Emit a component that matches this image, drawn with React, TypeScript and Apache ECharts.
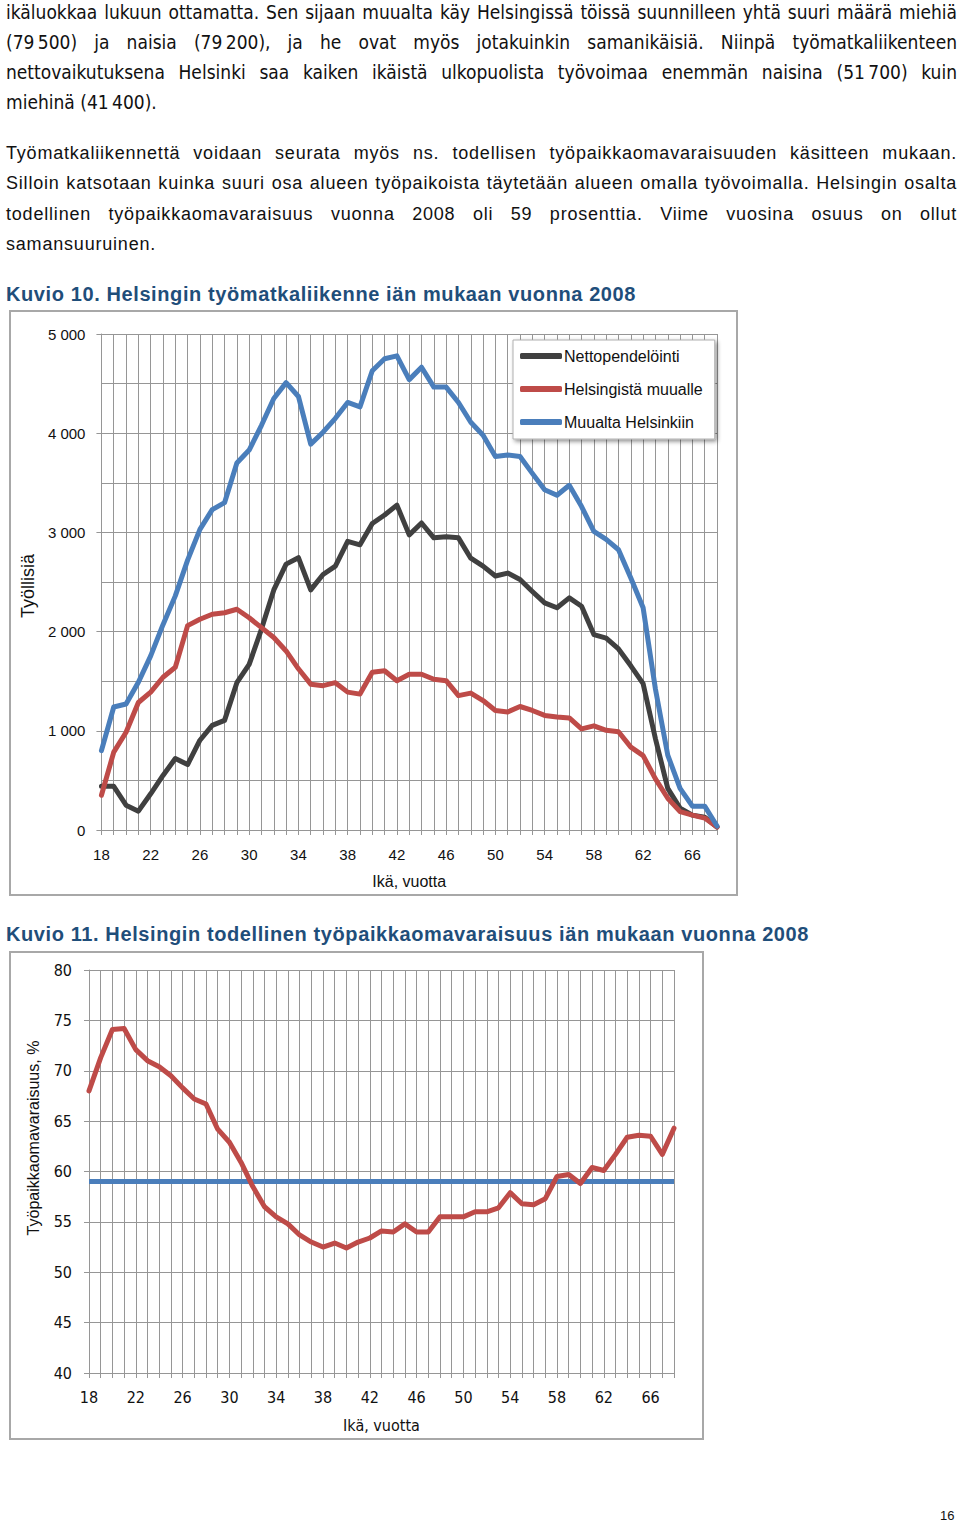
import React, { useEffect, useRef } from "react";
import * as echarts from "echarts";

// ---------- DATA ----------
const AGES = [
  "18", "19", "20", "21", "22", "23", "24", "25", "26", "27", "28", "29", "30",
  "31", "32", "33", "34", "35", "36", "37", "38", "39", "40", "41", "42", "43",
  "44", "45", "46", "47", "48", "49", "50", "51", "52", "53", "54", "55", "56",
  "57", "58", "59", "60", "61", "62", "63", "64", "65", "66", "67", "68",
];

// Kuvio 10
const NETTOPENDELOINTI = [
  440, 440, 250, 190, 365, 550, 720, 660, 905, 1055, 1105, 1485, 1670,
  2025, 2420, 2680, 2745, 2420, 2575, 2660, 2910, 2875, 3090, 3175, 3275, 2975,
  3095, 2945, 2955, 2945, 2740, 2660, 2560, 2590, 2525, 2405, 2290, 2240, 2340,
  2255, 1970, 1935, 1825, 1655, 1475, 920, 420, 220, 150, 130, 30,
];
const HELSINGISTA_MUUALLE = [
  350, 785, 985, 1285, 1390, 1540, 1640, 2060, 2125, 2175, 2190, 2225, 2140,
  2040, 1940, 1805, 1625, 1470, 1455, 1485, 1390, 1370, 1590, 1605, 1505, 1570,
  1570, 1520, 1505, 1355, 1380, 1305, 1205, 1190, 1245, 1205, 1155, 1140, 1130,
  1020, 1050, 1005, 990, 835, 750, 515, 320, 185, 150, 120, 30,
];
const MUUALTA_HELSINKIIN = [
  800, 1240, 1270, 1490, 1755, 2070, 2360, 2720, 3030, 3230, 3300, 3700, 3830,
  4080, 4350, 4510, 4370, 3890, 4010, 4150, 4310, 4265, 4630, 4750, 4780, 4540,
  4665, 4465, 4465, 4310, 4110, 3980, 3765, 3780, 3765, 3595, 3430, 3375, 3475,
  3260, 3010, 2930, 2825, 2540, 2240, 1420, 755, 420, 240, 240, 40,
];

// Kuvio 11
const OMAVARAISUUS = [
  68.0, 71.3, 74.1, 74.2, 72.1, 71.0, 70.4, 69.5, 68.3, 67.2, 66.7, 64.2, 62.9,
  60.9, 58.5, 56.5, 55.5, 54.8, 53.7, 53.0, 52.5, 52.9, 52.4, 53.0, 53.4, 54.1,
  54.0, 54.8, 54.0, 54.0, 55.5, 55.5, 55.5, 56.0, 56.0, 56.4, 57.9, 56.8, 56.7,
  57.3, 59.5, 59.7, 58.8, 60.4, 60.1, 61.7, 63.4, 63.6, 63.5, 61.7, 64.3,
];
const OMAVARAISUUS_KAIKKI = [["18", 59], ["68", 59]];

const Y1_TICKS = [0, 1000, 2000, 3000, 4000, 5000];

const PARA1 = [
  "ikäluokkaa lukuun ottamatta. Sen sijaan muualta käy Helsingissä töissä suunnilleen yhtä suuri määrä miehiä",
  "(79\u202F500) ja naisia (79\u202F200), ja he ovat myös jotakuinkin samanikäisiä. Niinpä työmatkaliikenteen",
  "nettovaikutuksena Helsinki saa kaiken ikäistä ulkopuolista työvoimaa enemmän naisina (51\u202F700) kuin",
  "miehinä (41\u202F400).",
];
const PARA2 = [
  "Työmatkaliikennettä voidaan seurata myös ns. todellisen työpaikkaomavaraisuuden käsitteen mukaan.",
  "Silloin katsotaan kuinka suuri osa alueen työpaikoista täytetään alueen omalla työvoimalla. Helsingin osalta",
  "todellinen työpaikkaomavaraisuus vuonna 2008 oli 59 prosenttia. Viime vuosina osuus on ollut",
  "samansuuruinen.",
];
const TITLE1 = "Kuvio 10. Helsingin työmatkaliikenne iän mukaan vuonna 2008";
const TITLE2 = "Kuvio 11. Helsingin todellinen työpaikkaomavaraisuus iän mukaan vuonna 2008";

// ---------- STYLE ----------
const SANS = "'Liberation Sans', Arial, sans-serif";
const NARROW = "'Liberation Sans Narrow', 'DejaVu Sans Condensed', 'Arial Narrow', sans-serif";
const GRID = "#969696";
const BLACK = "#404040";
const RED = "#be4b48";
const BLUE = "#4a7ebb";
const TITLE_BLUE = "#1f4e7a";

function fmtThousands(v: number) {
  return String(v).replace(/\B(?=(\d{3})+(?!\d))/g, " ");
}

function EChart({ option, width, height }: { option: any; width: number; height: number }) {
  const ref = useRef<HTMLDivElement>(null);
  useEffect(() => {
    const chart = echarts.init(ref.current!, undefined, { renderer: "svg" });
    chart.setOption(option);
    return () => chart.dispose();
  }, []);
  return <div ref={ref} style={{ width, height }} />;
}

const lineStyle = (color: string) => ({ width: 5, color, join: "round", cap: "round" });

const option1 = {
  animation: false,
  textStyle: { fontFamily: SANS },
  grid: { left: 87, top: 22, right: 19, bottom: 63 },
  legend: {
    left: 502,
    top: 28,
    orient: "vertical",
    data: ["Nettopendelöinti", "Helsingistä muualle", "Muualta Helsinkiin"],
    icon: "roundRect",
    itemWidth: 42,
    itemHeight: 6,
    itemGap: 15,
    padding: [7, 12, 8, 7],
    backgroundColor: "#ffffff",
    borderColor: "#b0b0b0",
    borderWidth: 1,
    shadowBlur: 4,
    shadowColor: "rgba(0,0,0,0.45)",
    shadowOffsetX: 2,
    shadowOffsetY: 2,
    textStyle: { fontSize: 16, color: "#111", lineHeight: 18, fontFamily: SANS, padding: [0, 0, 0, -3] },
  },
  xAxis: {
    type: "category",
    data: AGES,
    boundaryGap: false,
    name: "Ikä, vuotta",
    nameLocation: "middle",
    nameGap: 43,
    nameTextStyle: { fontSize: 16, color: "#111", fontFamily: SANS },
    axisLine: { lineStyle: { color: GRID, width: 1 } },
    axisTick: { show: true, interval: 0, length: 5, lineStyle: { color: GRID } },
    axisLabel: { interval: 3, margin: 17, fontSize: 15, color: "#111", fontFamily: SANS },
    splitLine: { show: true, interval: 0, lineStyle: { color: GRID, width: 1 } },
  },
  yAxis: {
    type: "value",
    min: Y1_TICKS[0],
    max: Y1_TICKS[Y1_TICKS.length - 1],
    interval: 1000,
    name: "Työllisiä",
    nameLocation: "middle",
    nameGap: 59,
    nameTextStyle: { fontSize: 18, color: "#111", fontFamily: SANS, padding: [0, 8, 0, 0] },
    axisLine: { show: true, lineStyle: { color: GRID, width: 1 } },
    axisTick: { show: true, length: 5, lineStyle: { color: GRID } },
    axisLabel: { formatter: (v: number) => fmtThousands(v), margin: 16, fontSize: 15, color: "#111", fontFamily: SANS },
    splitLine: { show: true, lineStyle: { color: GRID, width: 1 } },
    minorTick: { show: false, splitNumber: 2 },
    minorSplitLine: { show: true, lineStyle: { color: GRID, width: 1 } },
  },
  series: [
    { name: "Nettopendelöinti", type: "line", data: NETTOPENDELOINTI, symbol: "none", lineStyle: lineStyle(BLACK), itemStyle: { color: BLACK } },
    { name: "Helsingistä muualle", type: "line", data: HELSINGISTA_MUUALLE, symbol: "none", lineStyle: lineStyle(RED), itemStyle: { color: RED } },
    { name: "Muualta Helsinkiin", type: "line", data: MUUALTA_HELSINKIIN, symbol: "none", lineStyle: lineStyle(BLUE), itemStyle: { color: BLUE } },
  ],
};

const option2 = {
  animation: false,
  textStyle: { fontFamily: NARROW },
  grid: { left: 78, top: 17, right: 28, bottom: 62 },
  xAxis: {
    type: "category",
    data: AGES,
    boundaryGap: false,
    name: "Ikä, vuotta",
    nameLocation: "middle",
    nameGap: 44,
    nameTextStyle: { fontSize: 16, color: "#111", fontFamily: NARROW },
    axisLine: { lineStyle: { color: GRID, width: 1 } },
    axisTick: { show: true, interval: 0, length: 5, lineStyle: { color: GRID } },
    axisLabel: { interval: 3, margin: 16, fontSize: 16, color: "#111", fontFamily: NARROW },
    splitLine: { show: true, interval: 0, lineStyle: { color: GRID, width: 1 } },
  },
  yAxis: {
    type: "value",
    min: 40,
    max: 80,
    interval: 5,
    axisLine: { show: true, lineStyle: { color: GRID, width: 1 } },
    axisTick: { show: true, length: 5, lineStyle: { color: GRID } },
    axisLabel: { margin: 17, fontSize: 16, color: "#111", fontFamily: NARROW },
    splitLine: { show: true, lineStyle: { color: GRID, width: 1 } },
  },
  graphic: [
    {
      type: "text",
      x: 22,
      y: 185,
      rotation: Math.PI / 2,
      style: {
        text: "Työpaikkaomavaraisuus, %",
        fontSize: 16,
        fontFamily: SANS,
        fill: "#111",
        align: "center",
        verticalAlign: "middle",
      },
    },
  ],
  series: [
    { name: "Helsinki keskimäärin", type: "line", data: OMAVARAISUUS_KAIKKI, symbol: "none", lineStyle: { width: 5, color: BLUE, cap: "butt" }, itemStyle: { color: BLUE } },
    { name: "Työpaikkaomavaraisuus", type: "line", data: OMAVARAISUUS, symbol: "none", lineStyle: lineStyle(RED), itemStyle: { color: RED } },
  ],
};

function TextLine({ text, top, last, font, size, spacing }: { text: string; top: number; last: boolean; font: string; size: number; spacing?: number }) {
  return (
    <div
      style={{
        position: "absolute",
        left: 6,
        top,
        width: 951,
        height: 30,
        lineHeight: "30px",
        fontFamily: font,
        fontSize: size,
        letterSpacing: spacing ?? 0,
        color: "#111",
        textAlign: last ? "left" : "justify",
        textAlignLast: last ? "left" : "justify",
        whiteSpace: "nowrap",
      } as any}
    >
      {text}
    </div>
  );
}

const titleStyle: any = {
  position: "absolute",
  left: 6,
  fontFamily: SANS,
  fontWeight: "bold",
  fontSize: 20,
  letterSpacing: 0.6,
  color: TITLE_BLUE,
  whiteSpace: "nowrap",
  lineHeight: "26px",
};

export default function App() {
  return (
    <div style={{ position: "absolute", left: 0, top: 0, width: 960, height: 1525, background: "#fff", overflow: "hidden" }}>
      {PARA1.map((t, i) => (
        <TextLine key={"p1" + i} text={t} top={-3 + i * 30} last={i === PARA1.length - 1} font={NARROW} size={19} />
      ))}
      {PARA2.map((t, i) => (
        <TextLine key={"p2" + i} text={t} top={138 + i * 30.4} last={i === PARA2.length - 1} font={SANS} size={18} spacing={0.8} />
      ))}
      <div style={{ ...titleStyle, top: 281 }}>{TITLE1}</div>
      <div style={{ position: "absolute", left: 9, top: 310, width: 725, height: 582, border: "2px solid #a8a8a8" }}>
        <EChart option={option1} width={725} height={582} />
      </div>
      <div style={{ ...titleStyle, top: 921 }}>{TITLE2}</div>
      <div style={{ position: "absolute", left: 9, top: 951, width: 691, height: 485, border: "2px solid #a8a8a8" }}>
        <EChart option={option2} width={691} height={485} />
      </div>
      <div style={{ position: "absolute", left: 940, top: 1508, fontFamily: SANS, fontSize: 13, color: "#111", lineHeight: "16px" }}>16</div>
    </div>
  );
}
